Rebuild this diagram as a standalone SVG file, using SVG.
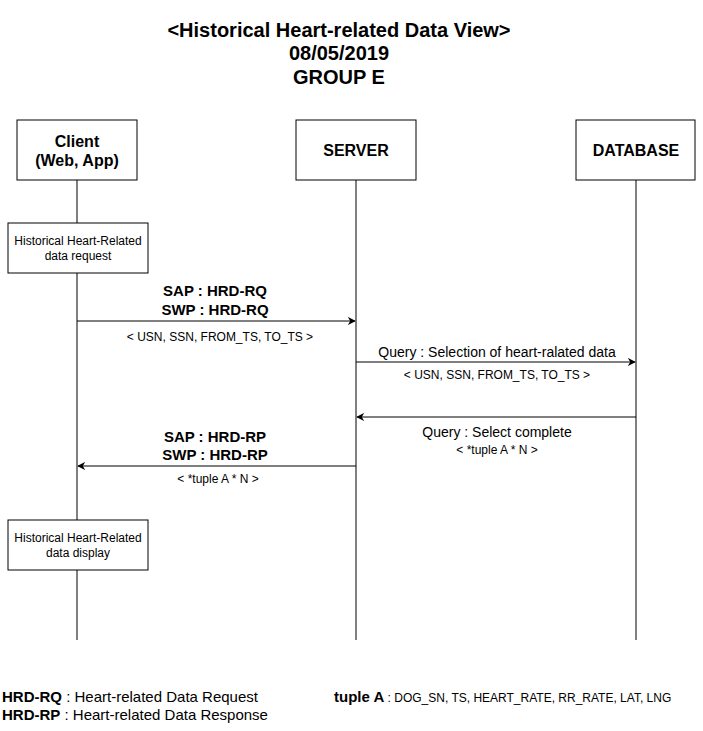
<svg xmlns="http://www.w3.org/2000/svg" width="703" height="731" viewBox="0 0 703 731">
<style>
.box{fill:#fff;stroke:#000;stroke-width:1}
.life{stroke:#000;stroke-width:1;fill:none}
.msg{stroke:#000;stroke-width:1;fill:none;marker-end:url(#ah)}
text{font-family:"Liberation Sans",Arial,sans-serif;fill:#000}
.title{font-size:20px;font-weight:bold;text-anchor:middle}
.head{font-size:16px;font-weight:bold;text-anchor:middle}
.small{font-size:12px;text-anchor:middle}
.lbl{font-size:15px;font-weight:bold;text-anchor:middle}
.q{font-size:14px;text-anchor:middle}
.p{font-size:12px;text-anchor:middle}
.leg{font-size:15px}
</style>
<defs>
<marker id="ah" viewBox="0 0 10 10" refX="9" refY="5" markerWidth="8" markerHeight="8" markerUnits="userSpaceOnUse" orient="auto">
<path d="M0,0 L10,5 L0,10 L3,5 Z" fill="#000"/>
</marker>
</defs>
<rect width="703" height="731" fill="#fff"/>
<g id="title">
<text class="title" x="339" y="37">&lt;Historical Heart-related Data View&gt;</text>
<text class="title" x="339" y="60">08/05/2019</text>
<text class="title" x="339" y="84">GROUP E</text>
</g>
<g id="lifelines">
<line class="life" x1="77" y1="180" x2="77" y2="640"/>
<line class="life" x1="356" y1="180" x2="356" y2="640"/>
<line class="life" x1="636" y1="180" x2="636" y2="640"/>
</g>
<g id="client">
<rect class="box" x="17" y="120" width="120" height="60"/>
<text class="head" x="77" y="147">Client</text>
<text class="head" x="77" y="166">(Web, App)</text>
</g>
<g id="server">
<rect class="box" x="296" y="120" width="120" height="60"/>
<text class="head" x="356" y="156">SERVER</text>
</g>
<g id="database">
<rect class="box" x="576" y="120" width="119" height="60"/>
<text class="head" x="636" y="156">DATABASE</text>
</g>
<g id="request">
<rect class="box" x="8" y="223" width="140" height="50"/>
<text class="small" x="78" y="245">Historical Heart-Related</text>
<text class="small" x="78" y="260">data request</text>
</g>
<g id="display">
<rect class="box" x="8" y="520" width="140" height="50"/>
<text class="small" x="78" y="542">Historical Heart-Related</text>
<text class="small" x="78" y="557">data display</text>
</g>
<g id="connectors">
<line class="msg" x1="77" y1="321" x2="355" y2="321"/>
<line class="msg" x1="356" y1="362" x2="635" y2="362"/>
<line class="msg" x1="636" y1="417" x2="357" y2="417"/>
<line class="msg" x1="356" y1="466" x2="78" y2="466"/>
</g>
<g id="labels">
<text class="lbl" x="215" y="296">SAP : HRD-RQ</text>
<text class="lbl" x="215" y="315">SWP : HRD-RQ</text>
<text class="p" x="220" y="341">&lt; USN, SSN, FROM_TS, TO_TS &gt;</text>
<text class="q" x="497" y="357">Query : Selection of heart-ralated data</text>
<text class="p" x="497" y="379">&lt; USN, SSN, FROM_TS, TO_TS &gt;</text>
<text class="q" x="497" y="437">Query : Select complete</text>
<text class="p" x="497" y="454">&lt; *tuple A * N &gt;</text>
<text class="lbl" x="215" y="442">SAP : HRD-RP</text>
<text class="lbl" x="215" y="460">SWP : HRD-RP</text>
<text class="p" x="218" y="483">&lt; *tuple A * N &gt;</text>
</g>
<g id="legend">
<text class="leg" x="2" y="702"><tspan font-weight="bold">HRD-RQ</tspan> : Heart-related Data Request</text>
<text class="leg" x="2" y="720"><tspan font-weight="bold">HRD-RP</tspan> : Heart-related Data Response</text>
<text class="leg" x="334" y="702"><tspan font-weight="bold">tuple A</tspan><tspan font-size="12px"> : DOG_SN, TS, HEART_RATE, RR_RATE, LAT, LNG</tspan></text>
</g>
</svg>
